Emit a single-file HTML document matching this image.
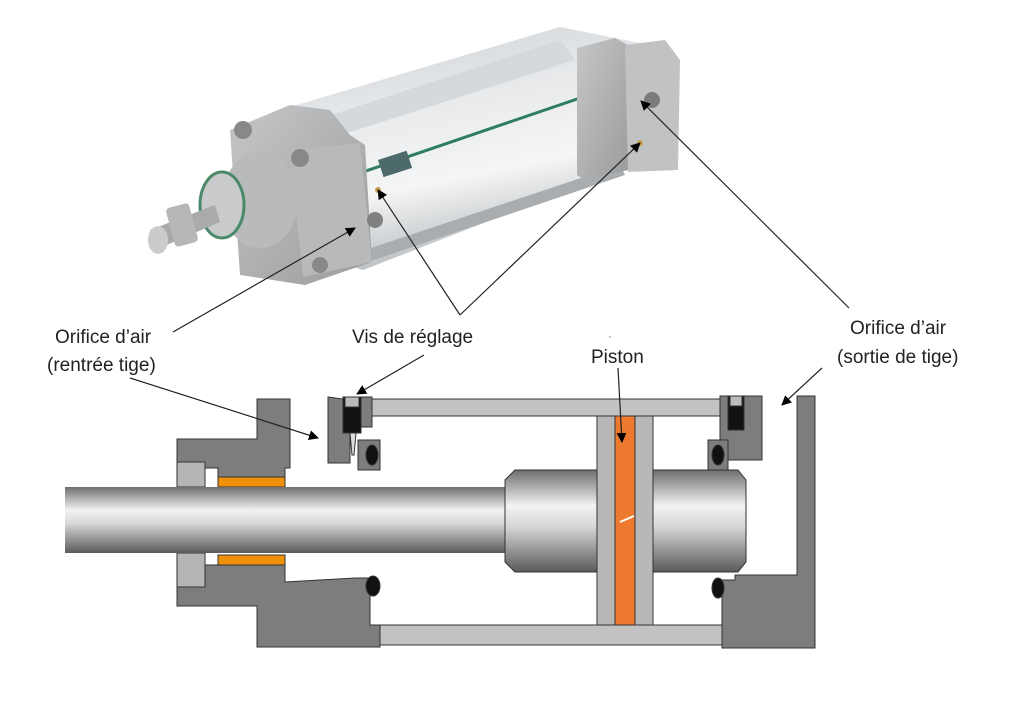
<!DOCTYPE html>
<html><head><meta charset="utf-8"><style>
html,body{margin:0;padding:0;background:#fff;}
svg{display:block;}
text{font-family:"Liberation Sans",sans-serif;font-size:19px;fill:#222;}
</style></head><body>
<svg width="1024" height="701" viewBox="0 0 1024 701" xmlns="http://www.w3.org/2000/svg">
<defs>
<linearGradient id="rod" x1="0" y1="0" x2="0" y2="1">
<stop offset="0" stop-color="#6e6e6e"/><stop offset="0.35" stop-color="#f2f2f2"/><stop offset="0.55" stop-color="#d8d8d8"/><stop offset="1" stop-color="#5a5a5a"/></linearGradient>
<linearGradient id="tube" x1="0" y1="0" x2="0.3" y2="1">
<stop offset="0" stop-color="#c9cdd0"/><stop offset="0.4" stop-color="#e8eaec"/><stop offset="0.7" stop-color="#f4f5f6"/><stop offset="1" stop-color="#b8bcbf"/></linearGradient>
<linearGradient id="cap" x1="0" y1="0" x2="1" y2="1">
<stop offset="0" stop-color="#c4c6c8"/><stop offset="1" stop-color="#9a9c9e"/></linearGradient>
<marker id="ah" markerWidth="10" markerHeight="10" refX="9" refY="5" orient="auto" markerUnits="userSpaceOnUse">
<path d="M0,0 L10,5 L0,10 z" fill="#000"/></marker>
</defs>

<g>
<polygon points="290,107 560,27 650,45 620,170 363,270 300,250" fill="url(#tube)"/>
<polygon points="300,125 560,40 575,60 310,145" fill="#d6d9db"/>
<line x1="363" y1="172" x2="580" y2="98" stroke="#2e7d62" stroke-width="3"/>
<polygon points="365,250 620,165 625,175 368,262" fill="#a9adb0"/>
<rect x="378" y="160" width="30" height="18" fill="#4c6a6a" transform="rotate(-18 378 160)"/>
<polygon points="577,48 615,38 628,45 628,170 585,180 577,175" fill="url(#cap)"/>
<polygon points="625,45 665,40 680,60 678,170 628,172" fill="#c0c2c4"/>
<circle cx="652" cy="100" r="8" fill="#7a7c7e"/>
<circle cx="640" cy="143" r="3" fill="#c8a050"/>
<polygon points="230,130 290,105 330,110 350,135 365,145 372,262 305,285 240,275" fill="url(#cap)"/>
<polygon points="290,150 360,143 372,262 303,277" fill="#b7b9bb"/>
<circle cx="243" cy="130" r="9" fill="#888"/>
<circle cx="300" cy="158" r="9" fill="#888"/>
<circle cx="320" cy="265" r="8" fill="#888"/>
<circle cx="378" cy="190" r="3" fill="#c8a050"/>
<circle cx="375" cy="220" r="8" fill="#7e8082"/>
<ellipse cx="260" cy="200" rx="38" ry="48" fill="#b8babc"/>
<ellipse cx="222" cy="205" rx="22" ry="33" fill="#c8cacc" stroke="#4a8a6a" stroke-width="3"/>
<polygon points="150,230 215,205 220,222 155,250" fill="#a8aaac"/>
<rect x="170" y="205" width="24" height="40" rx="4" fill="#b5b7b9" transform="rotate(-15 182 225)"/>
<ellipse cx="158" cy="240" rx="10" ry="14" fill="#c9cbcd"/>
</g>

<g stroke="#333" stroke-width="1">
<rect x="372" y="399" width="348" height="17" fill="#c2c2c2"/>
<rect x="372" y="625" width="350" height="20" fill="#c2c2c2"/>
<polygon points="257,399 290,399 290,468 285,468 285,477 218,477 218,468 177,468 177,439 257,439" fill="#7d7d7d"/>
<polygon points="177,462 205,462 205,487 177,487" fill="#b5b5b5"/>
<polygon points="177,553 205,553 205,587 177,587" fill="#b5b5b5"/>
<rect x="218" y="477" width="67" height="10" fill="#f0900a"/>
<rect x="218" y="555" width="67" height="10" fill="#f0900a"/>
<polygon points="205,565 285,565 285,582 355,578 370,578 370,625 380,625 380,647 257,647 257,606 177,606 177,587 205,587" fill="#7d7d7d"/>
<polygon points="328,397 350,400 350,463 328,463" fill="#7d7d7d"/>
<rect x="343" y="397" width="18" height="36" fill="#111"/>
<rect x="345" y="397" width="14" height="10" fill="#bbb"/>
<polygon points="350,433 356,433 354,455 352,455" fill="#ddd"/>
<rect x="361" y="397" width="11" height="30" fill="#7d7d7d"/>
<rect x="358" y="440" width="22" height="30" fill="#7d7d7d"/>
<ellipse cx="372" cy="455" rx="6" ry="10" fill="#111"/>
<ellipse cx="373" cy="586" rx="7" ry="10" fill="#111"/>
<rect x="65" y="487" width="442" height="66" fill="url(#rod)" stroke="none"/>
<path d="M515,470 L600,470 L600,572 L515,572 L505,562 L505,480 z" fill="url(#rod)"/>
<path d="M653,470 L738,470 L746,480 L746,562 L738,572 L653,572 z" fill="url(#rod)"/>
<rect x="597" y="416" width="18" height="209" fill="#b8b8b8"/>
<rect x="615" y="416" width="20" height="209" fill="#ee7a30"/>
<rect x="635" y="416" width="18" height="209" fill="#b8b8b8"/>
<rect x="720" y="396" width="42" height="64" fill="#7d7d7d"/>
<rect x="728" y="396" width="16" height="34" fill="#111"/>
<rect x="730" y="396" width="12" height="10" fill="#bbb"/>
<rect x="708" y="440" width="20" height="30" fill="#7d7d7d"/>
<ellipse cx="718" cy="455" rx="6" ry="10" fill="#111"/>
<polygon points="797,396 815,396 815,648 722,648 722,580 735,580 735,575 797,575" fill="#7d7d7d"/>
<ellipse cx="718" cy="588" rx="6" ry="10" fill="#111"/>
</g>
<line x1="620" y1="522" x2="634" y2="516" stroke="#fff" stroke-width="2"/>

<g stroke="#222" stroke-width="1.2" fill="none" marker-end="url(#ah)">
<line x1="173" y1="332" x2="355" y2="228"/>
<line x1="460" y1="315" x2="378" y2="190"/>
<line x1="460" y1="315" x2="640" y2="143"/>
<line x1="424" y1="355" x2="357" y2="394"/>
<line x1="130" y1="378" x2="318" y2="438"/>
<line x1="849" y1="308" x2="641" y2="101"/>
<line x1="822" y1="368" x2="782" y2="405"/>
<line x1="618" y1="368" x2="622" y2="442"/>
</g>
<circle cx="610" cy="337" r="0.8" fill="#888"/>

<text x="55" y="343">Orifice d’air</text>
<text x="47" y="371">(rentrée tige)</text>
<text x="352" y="343">Vis de réglage</text>
<text x="591" y="363">Piston</text>
<text x="850" y="334">Orifice d’air</text>
<text x="837" y="363">(sortie de tige)</text>
</svg>
</body></html>
